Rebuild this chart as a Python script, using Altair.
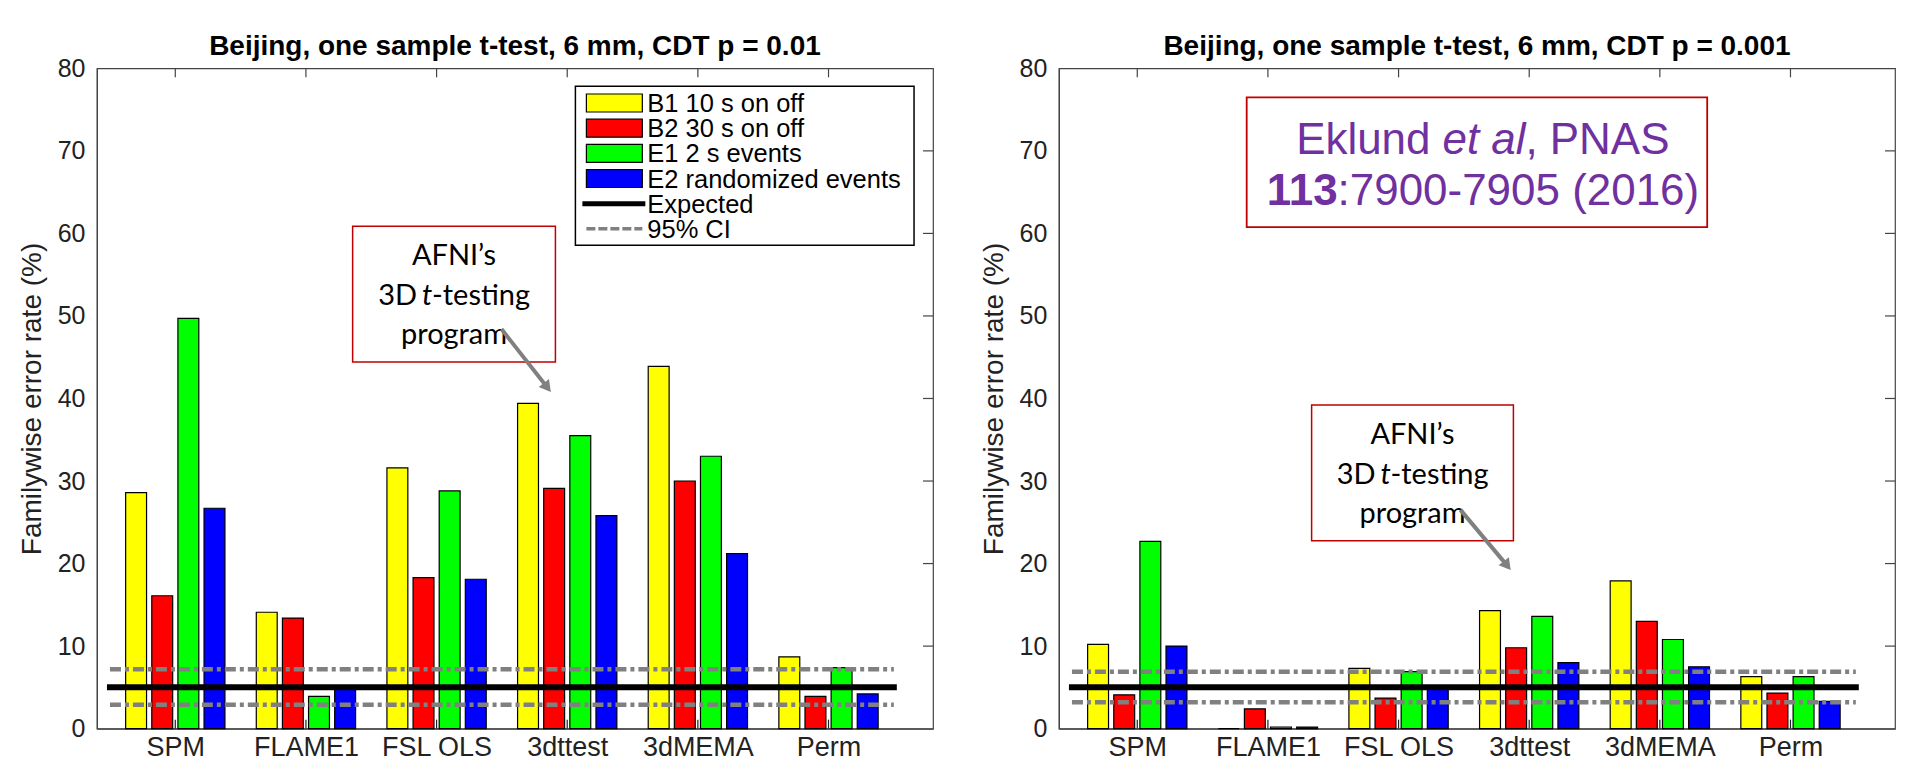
import json
import altair as alt
import pandas as pd

# ---------------- data ----------------
categories = ["SPM", "FLAME1", "FSL OLS", "3dttest", "3dMEMA", "Perm"]
series_names = ["B1 10 s on off", "B2 30 s on off", "E1 2 s events", "E2 randomized events"]
series_colors = ["#ffff00", "#ff0000", "#00ff00", "#0000ff"]

# CDT p = 0.01
b1_p01 = [28.6, 14.1, 31.6, 39.4, 43.9, 8.7]
b2_p01 = [16.1, 13.4, 18.3, 29.1, 30.0, 3.9]
e1_p01 = [49.7, 3.9, 28.8, 35.5, 33.0, 7.4]
e2_p01 = [26.7, 4.8, 18.1, 25.8, 21.2, 4.2]

# CDT p = 0.001
b1_p001 = [10.2, 0.0, 7.3, 14.3, 17.9, 6.3]
b2_p001 = [4.1, 2.4, 3.7, 9.8, 13.0, 4.3]
e1_p001 = [22.7, 0.2, 6.9, 13.6, 10.8, 6.3]
e2_p001 = [10.0, 0.2, 4.8, 8.0, 7.5, 3.3]

expected_rate = [5.0]
ci_p01 = [2.9, 7.2]
ci_p001 = [3.2, 6.9]
line_span = [0.5, 6.5]
y_tick_values = [0, 10, 20, 30, 40, 50, 60, 70, 80]
right_tick_values = [10, 20, 30, 40, 50, 60, 70]

title_p01 = "Beijing, one sample t-test, 6 mm, CDT p = 0.01"
title_p001 = "Beijing, one sample t-test, 6 mm, CDT p = 0.001"
y_title = "Familywise error rate (%)"
legend_extra = ["Expected", "95% CI"]
afni_lines = ["AFNI\u2019s", "3D", "t", "-testing", "program"]

# ---------------- layout ----------------
W, H = 837, 661
SLOT, BW = 0.2, 0.16
FONT = "Liberation Sans"
GRAY = "#808080"
BOXRED = "#c00000"
PURPLE = "#7030a0"

xscale = alt.Scale(domain=[0.4, 6.8], nice=False, zero=False)
yscale = alt.Scale(domain=[0, 80], nice=False)
label_expr = json.dumps(categories) + "[datum.value - 1]"
xaxis = alt.Axis(values=[1, 2, 3, 4, 5, 6], labelExpr=label_expr, ticks=False, grid=False,
                 labelPadding=6, labelFontSize=27)
yaxis = alt.Axis(values=y_tick_values, ticks=False, grid=False, labelPadding=12,
                 titlePadding=11, labelFontSize=25, titleFontSize=28)


def X(f):
    return alt.X(f, type="quantitative", scale=xscale, axis=xaxis, title=None)


def Y(f):
    return alt.Y(f, type="quantitative", scale=yscale, axis=yaxis, title=y_title)


one = pd.DataFrame({"k": [0]})
color_scale = alt.Scale(domain=series_names, range=series_colors)


def bars_frame(vals):
    rows = []
    for si, (name, v_list) in enumerate(zip(series_names, vals)):
        for ci, v in enumerate(v_list):
            c = ci + 1 + (si - 1.5) * SLOT
            rows.append({"series": name, "cat": categories[ci], "x0": c - BW / 2,
                         "x1": c + BW / 2, "value": v, "base": 0.0})
    return pd.DataFrame(rows)


def data_layers(vals, ci):
    bars = alt.Chart(bars_frame(vals)).mark_rect(stroke="black", strokeWidth=1.2).encode(
        x=X("x0"), x2="x1", y=Y("value"), y2="base",
        color=alt.Color("series:N", scale=color_scale, legend=None),
    )
    ci_df = pd.DataFrame({"x0": [line_span[0]] * 2, "x1": [line_span[1]] * 2, "value": ci})
    ci_layer = alt.Chart(ci_df).mark_rule(color=GRAY, strokeWidth=4.5,
                                          strokeDash=[11, 4, 4, 4]).encode(
        x=X("x0"), x2="x1", y=Y("value"))
    ex_df = pd.DataFrame({"x0": [line_span[0]], "x1": [line_span[1]], "value": expected_rate})
    ex_layer = alt.Chart(ex_df).mark_rule(color="black", strokeWidth=6, strokeCap="square").encode(
        x=X("x0"), x2="x1", y=Y("value"))
    tick_df = pd.DataFrame({"x0": [1, 2, 3, 4, 5, 6]})
    top_ticks = alt.Chart(tick_df).mark_rule(color="#444", strokeWidth=1.2).encode(
        x=X("x0"), y=alt.value(0), y2=alt.value(9))
    bot_ticks = alt.Chart(tick_df).mark_rule(color="#222", strokeWidth=1.2).encode(
        x=X("x0"), y=alt.value(H), y2=alt.value(H - 9))
    rt_df = pd.DataFrame({"value": right_tick_values})
    right_ticks = alt.Chart(rt_df).mark_rule(color="#444", strokeWidth=1.2).encode(
        y=Y("value"), x=alt.value(W - 10), x2=alt.value(W))
    return [bars, ci_layer, ex_layer, top_ticks, bot_ticks, right_ticks]


def pix_text(txt, x, y, size, align="center", baseline="middle", color="black",
             font=FONT, style="normal", weight="normal"):
    return alt.Chart(one).mark_text(text=txt, align=align, baseline=baseline, fontSize=size,
                                    font=font, fontStyle=style, fontWeight=weight,
                                    color=color).encode(x=alt.value(x), y=alt.value(y))


def pix_rect(x0, y0, x1, y1, fill, stroke, sw):
    return alt.Chart(one).mark_rect(fill=fill, stroke=stroke, strokeWidth=sw).encode(
        x=alt.value(x0), x2=alt.value(x1), y=alt.value(y0), y2=alt.value(y1))


def afni_layers(box, arrow):
    x0, y0, x1, y1 = box
    xc = (x0 + x1) / 2
    lay = [pix_rect(x0, y0, x1, y1, "white", BOXRED, 1.5)]
    lay.append(pix_text(afni_lines[0], xc, y0 + 30, 29, font="Lato"))
    lay.append(pix_text(afni_lines[1], xc - 37, y0 + 70, 29, align="right", font="Lato"))
    lay.append(pix_text(afni_lines[2], xc - 32, y0 + 70, 29, align="left", font="Lato", style="italic"))
    lay.append(pix_text(afni_lines[3], xc - 22, y0 + 70, 29, align="left", font="Lato"))
    lay.append(pix_text(afni_lines[4], xc, y0 + 109, 29, font="Lato"))
    ax0, ay0, ax1, ay1 = arrow
    lay.append(alt.Chart(one).mark_rule(color=GRAY, strokeWidth=4).encode(
        x=alt.value(ax0), y=alt.value(ay0), x2=alt.value(ax1 - 0.08 * (ax1 - ax0)),
        y2=alt.value(ay1 - 0.08 * (ay1 - ay0))))
    lay.append(alt.Chart(one).mark_point(shape="triangle-up", filled=True, size=170, angle=142,
                                         color=GRAY, opacity=1).encode(
        x=alt.value(ax1 - 0.1 * (ax1 - ax0)), y=alt.value(ay1 - 0.1 * (ay1 - ay0))))
    return lay


def legend_layers():
    lay = [pix_rect(479, 18, 818, 177, "white", "black", 1.5)]
    row_y = [34.7 + 25.2 * i for i in range(6)]
    for i, (name, col) in enumerate(zip(series_names, series_colors)):
        lay.append(pix_rect(490, row_y[i] - 9, 546, row_y[i] + 9, col, "black", 1.2))
        lay.append(pix_text(name, 551, row_y[i] + 1, 25.5, align="left"))
    lay.append(alt.Chart(one).mark_rule(color="black", strokeWidth=5).encode(
        x=alt.value(486), x2=alt.value(549), y=alt.value(row_y[4])))
    lay.append(pix_text(legend_extra[0], 551, row_y[4] + 1, 25.5, align="left"))
    lay.append(alt.Chart(one).mark_rule(color=GRAY, strokeWidth=3.5, strokeDash=[9, 3]).encode(
        x=alt.value(490), x2=alt.value(546), y=alt.value(row_y[5])))
    lay.append(pix_text(legend_extra[1], 551, row_y[5] + 1, 25.5, align="left"))
    return lay


def eklund_layers():
    lay = [pix_rect(188, 29, 649, 159, "white", BOXRED, 1.8)]
    lay.append(pix_text("Eklund", 372, 86, 44, align="right", baseline="alphabetic", color=PURPLE))
    lay.append(pix_text("et al", 384, 86, 44, align="left", baseline="alphabetic", color=PURPLE,
                        style="italic"))
    lay.append(pix_text(", PNAS", 467, 86, 44, align="left", baseline="alphabetic", color=PURPLE))
    lay.append(pix_text("113", 279, 137, 44, align="right", baseline="alphabetic", color=PURPLE,
                        weight="bold"))
    lay.append(pix_text(":7900-7905 (2016)", 279, 137, 44, align="left", baseline="alphabetic",
                        color=PURPLE))
    return lay


left_layers = data_layers([b1_p01, b2_p01, e1_p01, e2_p01], ci_p01)
left_layers += afni_layers((256, 158, 459, 294), (405, 261, 456, 326))
left_layers += legend_layers()
left = alt.layer(*left_layers).properties(width=W, height=H, title=title_p01)

right_layers = data_layers([b1_p001, b2_p001, e1_p001, e2_p001], ci_p001)
right_layers += afni_layers((253, 337, 455, 473), (402, 442, 454, 504))
right_layers += eklund_layers()
right = alt.layer(*right_layers).properties(width=W, height=H, title=title_p001)

chart = alt.hconcat(left, right, spacing=44).properties(
    padding={"left": 9, "top": 24, "right": 0, "bottom": 0},
    background="white",
).configure_view(stroke="#444", strokeWidth=1.2).configure_axis(
    domainColor="#444", domainWidth=1.2, labelFont=FONT, titleFont=FONT,
    labelColor="#222", titleColor="#222", titleFontWeight="normal",
).configure_title(font=FONT, fontSize=28, fontWeight="bold", color="black", offset=-5,
                  anchor="middle")

chart.save("out.html", embed_options={"renderer": "svg", "actions": False})
